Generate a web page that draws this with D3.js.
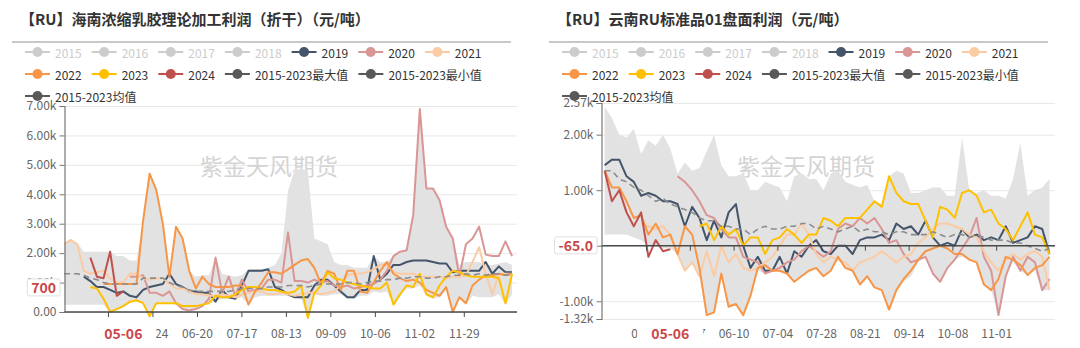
<!DOCTYPE html>
<html><head><meta charset="utf-8">
<script src="https://cdn.jsdelivr.net/npm/d3@7"></script>
<style>body{margin:0;background:#fff}svg{display:block}</style>
</head><body>
<svg id="c" width="1080" height="348"></svg>
<script>
// ---------------- DATA ----------------
const legendRows = [
  ["2015","2016","2017","2018","2019","2020","2021"],
  ["2022","2023","2024","2015-2023最大值","2015-2023最小值"],
  ["2015-2023均值"]
];
const inactiveYears = ["2015","2016","2017","2018"];

// Left panel: 海南浓缩乳胶理论加工利润（折干）, grid every 4 days from 03-31
const leftTitle = "【RU】海南浓缩乳胶理论加工利润（折干）（元/吨）";
const leftGridStart = "03-31";
const leftTicks = ["04-27","05-24","06-20","07-17","08-13","09-09","10-06","11-02","11-29"];
const leftYTicks = [0,1000,2000,3000,4000,5000,6000,7000];
const leftPointer = {date:"05-06", value:700};

const L2019 = [null,null,null,1200,1050,850,850,750,650,700,
  550,500,750,850,900,950,1300,950,850,700,
  700,650,650,350,750,500,450,900,1400,1400,
  1400,1450,850,750,600,500,500,500,900,1100,
  1100,900,700,500,500,750,750,1900,1100,1300,
  1600,1600,1700,1750,1750,1750,1700,1650,1650,1350,
  1400,1400,1400,1400,1700,1300,1550,1350,1350];
const L2020 = [null,null,null,null,null,null,null,null,null,null,
  1200,1200,1250,650,650,550,700,300,100,50,
  100,200,450,1850,650,1200,550,1100,700,750,
  800,1100,1100,1000,2700,1050,1050,1000,1100,1000,
  1050,900,850,900,800,850,900,950,1100,1400,
  1900,2050,2100,3300,6900,4200,4200,3800,2900,2500,
  1200,2300,2500,2900,1950,1900,1900,2400,1900];
const L2021 = [2300,2450,2300,1400,1300,1350,1400,1150,1000,1000,
  1300,1300,1150,1100,1150,1150,950,800,800,700,
  600,600,550,550,600,550,500,600,650,700,
  700,600,600,650,600,550,600,650,650,600,
  650,700,900,1250,1300,1300,1350,1450,1600,1600,
  1350,1300,1300,1300,1200,1200,1200,1200,1150,1200,
  1200,1250,1700,2200,1300,600,1300,1300,1300];
const L2022 = [null,null,null,null,null,null,950,950,950,950,
  950,950,3100,4700,4150,3000,1200,2900,2500,1400,
  800,1200,950,850,850,850,900,900,250,700,
  1000,1350,1350,1300,1450,1600,1750,1800,1500,950,
  1400,1300,750,1400,1400,700,650,1000,1400,1700,
  1300,1150,1050,1100,1000,750,650,550,850,0,
  500,300,900,1100,1250,1250,1300,1250,1300];
const L2023 = [null,null,null,null,850,800,450,0,100,200,
  350,400,300,-150,300,300,300,300,200,200,
  200,250,300,550,500,500,600,750,850,850,
  800,750,750,700,650,700,900,-200,650,900,
  1350,1150,1100,1000,950,900,850,800,800,1000,
  250,600,900,850,1300,600,500,900,1200,1400,
  1350,1250,1200,1200,1200,1200,1150,300,1300];
const L2024 = [null,null,null,null,1850,1200,1150,2050,550,700];
const LMean = [1300,1300,1300,1250,1150,1100,1000,950,950,950,
  950,950,1150,1150,1150,1150,1000,900,850,750,
  700,700,700,700,700,700,750,800,800,800,
  800,850,850,850,900,900,900,850,900,950,
  950,950,950,1000,1000,950,1000,1050,1050,1100,
  1100,1150,1150,1200,1200,1150,1150,1200,1200,1250,
  1250,1300,1250,1300,1250,1300,1300,1250,1300];
const LMax = [2350,2450,2350,2050,2050,2050,2050,2050,1900,1900,
  1750,1750,3100,4700,4150,3000,1300,2900,2500,1400,
  1200,1250,1250,1850,1300,1250,1200,1250,1450,1450,
  1450,1500,1600,2000,4100,4850,4850,4800,2500,2400,
  2300,1700,1600,1600,1500,1500,1500,1900,1700,1700,
  1900,2050,2100,3300,6900,4200,4200,3800,2900,2500,
  1600,1700,1700,1700,1600,1600,1650,1700,1600];
const LMin = [250,250,250,250,250,250,250,0,100,200,
  300,350,300,-150,250,300,300,250,100,50,
  100,200,300,350,450,450,450,500,250,500,
  550,550,550,550,550,500,450,-200,600,550,
  550,600,600,450,450,550,550,700,650,700,
  250,550,800,800,900,550,450,500,750,0,
  450,250,550,500,500,500,600,250,600];

// Right panel: 云南RU标准品01盘面利润, grid every 4 days from 03-31
const rightTitle = "【RU】云南RU标准品01盘面利润（元/吨）";
const rightGridStart = "03-31";
const rightTicks = ["04-23","05-17","06-10","07-04","07-28","08-21","09-14","10-08","11-01"];
const rightYTicks = [-1320,-1000,0,1000,2000,2570];
const rightPointer = {date:"05-06", value:-65};

const R2019 = [1450,1550,1550,1250,1150,900,950,900,800,800,
  750,350,700,500,100,450,150,600,750,0,
  -400,-200,-450,-450,-200,-500,-100,-200,0,100,
  -100,-150,0,0,-150,100,150,150,200,100,
  400,300,350,200,450,150,0,50,0,300,
  150,200,100,150,100,350,50,100,150,350,
  300,-150];
const R2020 = [null,null,null,null,null,null,null,null,null,null,
  1250,1150,1000,800,550,500,300,150,150,-200,
  -250,-300,-500,-450,-400,-300,-250,-100,0,-100,
  -200,-100,300,400,350,500,400,500,300,50,
  100,-150,-300,-250,-200,-500,-650,-400,-250,-50,
  150,500,-200,-450,-1250,-550,-200,-450,-200,-300,
  -800,-600];
const R2021 = [null,null,null,null,null,400,350,300,350,200,
  -150,-450,-300,-550,-100,-550,0,-300,-150,-400,
  -450,-400,-300,-200,0,200,200,400,200,-150,
  -300,-200,-250,-300,-450,-300,-250,-200,-100,-200,
  -300,-200,-150,50,150,300,400,400,350,300,
  200,150,-100,-300,-450,-250,-150,-250,-150,-100,
  -200,-800];
const R2022 = [1350,1050,1050,800,500,550,200,400,150,200,
  -150,350,200,-400,-1250,-1200,-500,-1100,-1050,-1250,
  -900,-400,-350,-450,-450,-500,-650,-550,-450,-400,
  -550,-450,-200,-400,-450,-700,-550,-750,-800,-1150,
  -800,-600,-450,-250,-100,-50,0,-50,-150,-150,
  -250,-300,-700,-800,-600,-200,-250,-350,-530,-400,
  -350,-200];
const R2023 = [null,null,null,null,null,null,null,null,null,null,
  null,null,null,350,400,100,350,200,300,0,
  150,150,-150,100,150,300,200,50,200,200,
  500,450,350,500,500,500,650,800,700,1250,
  950,800,750,750,450,150,700,650,500,950,
  1000,900,600,650,400,300,100,350,600,200,
  150,-150];
const R2024 = [1350,800,1000,600,350,600,-200,100,-100,-65];
const RMean = [1350,1350,1200,1150,1050,1000,900,800,850,750,
  700,650,600,500,450,450,350,350,300,300,
  200,300,350,300,300,350,350,400,400,300,
  350,300,250,300,350,250,300,250,250,200,
  250,250,200,200,200,250,200,150,200,200,
  150,200,150,100,100,100,50,50,0,-50,
  -100,-50];
const RMax = [2500,2300,2000,1950,2100,1650,1900,1800,2000,1750,
  1300,1500,1350,1400,1700,2000,1450,1250,1250,1300,
  1000,1000,1150,1100,1050,800,1250,1300,1200,1200,
  1000,1300,1350,1150,1100,1050,1100,800,750,1250,
  1350,1300,950,950,1000,1050,1050,900,900,1950,
  1000,950,1000,900,900,850,1200,1850,900,1000,
  1050,1200];
const RMin = [200,200,200,200,150,100,0,0,-50,-50,
  -150,-450,-300,-550,-1250,-1200,-500,-1100,-1050,-1250,
  -900,-450,-500,-450,-450,-500,-650,-550,-450,-400,
  -550,-450,-250,-400,-450,-700,-550,-750,-800,-1150,
  -800,-650,-550,-300,-200,-500,-650,-400,-250,-200,
  -250,-300,-700,-800,-1250,-550,-300,-450,-530,-450,
  -800,-800];

// ---------------- STYLE ----------------
const colors = {
  "2015":"#cccccc","2016":"#cccccc","2017":"#cccccc","2018":"#cccccc",
  "2019":"#44546a","2020":"#d99694","2021":"#fbcba4","2022":"#f79646",
  "2023":"#ffc000","2024":"#c0504d",
  "2015-2023最大值":"#595959","2015-2023最小值":"#595959","2015-2023均值":"#595959"
};
const FONT = '"Noto Sans CJK SC","Noto Sans",sans-serif';
const RED = "#c9474a";
const svg = d3.select("#c");
const parse = d3.timeParse("%m-%d");

function drawPanel(cfg) {
  const g = svg.append("g");
  const x = d3.scaleTime().domain([parse(cfg.domain[0]), parse(cfg.domain[1])]).range([cfg.x0, cfg.x1]);
  const y = d3.scaleLinear().domain(cfg.yDomain).range([cfg.yBottom, cfg.yTop]);
  const n = cfg.max.length;
  const dates = d3.range(n).map(i => d3.timeDay.offset(parse(cfg.gridStart), i * 4));

  // title
  g.append("text").attr("x", cfg.ox + 20).attr("y", 25)
    .attr("font-family", FONT).attr("font-size", 15).attr("font-weight", "bold")
    .attr("fill", "#333").text(cfg.title);
  g.append("line").attr("x1", cfg.ox + 12).attr("x2", cfg.ox + 511)
    .attr("y1", 42).attr("y2", 42).attr("stroke", "#c8c8c8").attr("stroke-width", 2);

  // gridlines
  g.append("g").selectAll("line").data(cfg.yTicks).join("line")
    .attr("x1", cfg.x0).attr("x2", cfg.x1)
    .attr("y1", d => y(d) + 0.5).attr("y2", d => y(d) + 0.5)
    .attr("stroke", "#e8e8e8").attr("stroke-width", 1);

  // watermark
  g.append("text").attr("x", cfg.wmX).attr("y", 165).attr("text-anchor", "middle")
    .attr("dominant-baseline", "central").attr("font-family", FONT).attr("font-size", 23)
    .attr("fill", "#d4d4d4").text("紫金天风期货");

  // band
  const area = d3.area().x((d, i) => x(dates[i]))
    .y0((d, i) => y(cfg.min[i])).y1((d, i) => y(cfg.max[i]));
  g.append("path").datum(cfg.max).attr("d", area).attr("fill", "#e2e2e2");

  const line = d3.line().defined(d => d != null).x((d, i) => x(dates[i])).y(d => y(d));
  const lines = [["2019", cfg.s2019], ["2020", cfg.s2020], ["2021", cfg.s2021],
                 ["2022", cfg.s2022], ["2023", cfg.s2023], ["2024", cfg.s2024]];
  lines.forEach(([k, vals]) => {
    g.append("path").datum(vals).attr("d", line).attr("fill", "none")
      .attr("stroke", colors[k]).attr("stroke-width", 2).attr("stroke-linejoin", "round");
  });
  g.append("path").datum(cfg.mean).attr("d", line).attr("fill", "none")
    .attr("stroke", "#8c8c8c").attr("stroke-width", 1.6).attr("stroke-dasharray", "6,4");

  // x axis at zero
  const y0 = y(0);
  g.append("line").attr("x1", cfg.x0).attr("x2", cfg.x1).attr("y1", y0).attr("y2", y0)
    .attr("stroke", "#4a4a4a").attr("stroke-width", 1.5);
  g.append("g").selectAll("line").data(cfg.xTicks).join("line")
    .attr("x1", d => x(parse(d))).attr("x2", d => x(parse(d)))
    .attr("y1", y0).attr("y2", y0 + 5).attr("stroke", "#4a4a4a").attr("stroke-width", 1);
  g.append("g").selectAll("text").data(cfg.xTicks).join("text")
    .attr("x", d => x(parse(d))).attr("y", 338).attr("text-anchor", "middle")
    .attr("font-family", FONT).attr("font-size", 12).attr("fill", "#666").text(d => d);

  // y axis
  const fmt = v => v === 0 ? "0.00" : (v / 1000).toFixed(2) + "k";
  const yAxis = d3.axisLeft(y).tickValues(cfg.yTicks).tickSize(5).tickPadding(3).tickFormat(fmt);
  const ya = g.append("g").attr("transform", `translate(${cfg.x0 + 0.5},0)`).call(yAxis);
  ya.select(".domain").attr("stroke", "#777").attr("stroke-width", 1.2);
  ya.selectAll(".tick line").attr("stroke", "#777");
  ya.selectAll(".tick text").attr("font-family", FONT).attr("font-size", 12).attr("fill", "#666");

  // axis pointer labels
  const px = x(parse(cfg.pointer.date));
  g.append("rect").attr("x", px - 33).attr("y", 322).attr("width", 66).attr("height", 23).attr("fill", "#fff");
  g.append("text").attr("x", px).attr("y", 339).attr("text-anchor", "middle")
    .attr("font-family", FONT).attr("font-size", 14).attr("font-weight", "bold")
    .attr("fill", RED).text(cfg.pointer.date);
  const pyv = y(cfg.pointer.value) - 4;
  const ptxt = cfg.pointerText;
  const tmp = g.append("text").attr("font-family", FONT).attr("font-size", 14)
    .attr("font-weight", "bold").text(ptxt);
  const tw = tmp.node().getComputedTextLength();
  tmp.remove();
  const bx1 = cfg.x0 - 4, bw = tw + 8;
  g.append("rect").attr("x", bx1 - bw).attr("y", pyv - 8.5).attr("width", bw).attr("height", 17)
    .attr("rx", 2).attr("fill", "#fff").attr("stroke", "#e0e0e0").attr("stroke-width", 1);
  g.append("text").attr("x", bx1 - 4).attr("y", pyv).attr("text-anchor", "end")
    .attr("dominant-baseline", "central").attr("font-family", FONT).attr("font-size", 14)
    .attr("font-weight", "bold").attr("fill", RED).text(ptxt);

  // legend
  const rowY = [52, 74, 96];
  legendRows.forEach((row, r) => {
    let cx = cfg.ox + 25;
    row.forEach(name => {
      const inactive = inactiveYears.includes(name);
      const col = colors[name];
      const it = g.append("g");
      it.append("line").attr("x1", cx).attr("x2", cx + 25).attr("y1", rowY[r]).attr("y2", rowY[r])
        .attr("stroke", col).attr("stroke-width", 2);
      it.append("circle").attr("cx", cx + 12.5).attr("cy", rowY[r]).attr("r", 5).attr("fill", col);
      const t = it.append("text").attr("x", cx + 30).attr("y", rowY[r])
        .attr("dominant-baseline", "central").attr("font-family", FONT).attr("font-size", 12)
        .attr("fill", inactive ? "#cccccc" : "#333").text(name);
      cx = cx + 30 + t.node().getComputedTextLength() + 10;
    });
  });
}

drawPanel({
  ox: 0, title: leftTitle, domain: ["03-31", "12-31"], x0: 64, x1: 517,
  yDomain: [0, 7000], yBottom: 312, yTop: 106, yTicks: leftYTicks,
  gridStart: leftGridStart, xTicks: leftTicks, wmX: 269,
  s2019: L2019, s2020: L2020, s2021: L2021, s2022: L2022, s2023: L2023, s2024: L2024,
  mean: LMean, max: LMax, min: LMin, pointer: leftPointer, pointerText: "700"
});
drawPanel({
  ox: 537, title: rightTitle, domain: ["03-29", "12-03"], x0: 601, x1: 1055,
  yDomain: [-1320, 2570], yBottom: 319, yTop: 103, yTicks: rightYTicks,
  gridStart: rightGridStart, xTicks: rightTicks, wmX: 806,
  s2019: R2019, s2020: R2020, s2021: R2021, s2022: R2022, s2023: R2023, s2024: R2024,
  mean: RMean, max: RMax, min: RMin, pointer: rightPointer, pointerText: "-65.0"
});
</script>
</body></html>
